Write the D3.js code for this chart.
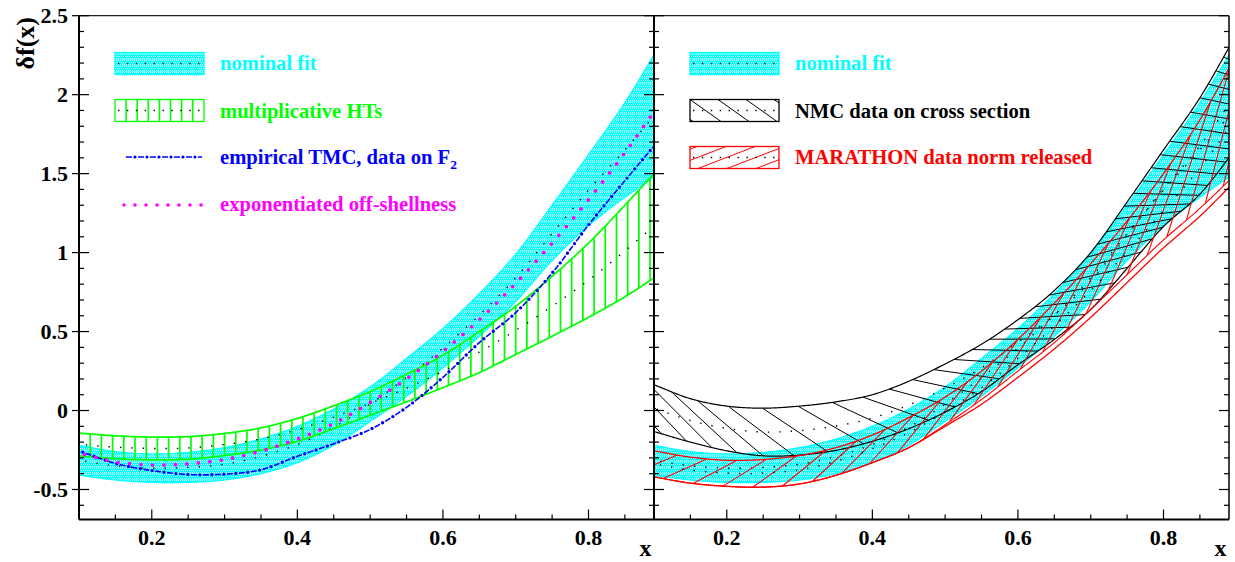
<!DOCTYPE html>
<html><head><meta charset="utf-8">
<script src="https://cdn.jsdelivr.net/npm/d3@7"></script>
<style>
body{margin:0;background:#fff}
svg{display:block}
text{font-family:"Liberation Serif","Times New Roman",serif;font-weight:bold}
</style></head>
<body><svg id="c" width="1235" height="562"></svg>
<script>
// ---------------- data ----------------
const xGrid      = [0.10,0.15,0.20,0.25,0.30,0.35,0.40,0.45,0.50,0.55,0.60,0.65,0.70,0.75,0.80,0.85,0.90];
const nominalHi  = [-0.22,-0.26,-0.275,-0.265,-0.235,-0.18,-0.10,0.01,0.15,0.33,0.52,0.74,0.99,1.30,1.62,1.95,2.33];
const nominalLo  = [-0.41,-0.44,-0.455,-0.455,-0.44,-0.40,-0.33,-0.22,-0.07,0.09,0.27,0.47,0.69,0.95,1.17,1.35,1.51];
const nominalMid = [-0.315,-0.35,-0.365,-0.36,-0.34,-0.29,-0.215,-0.105,0.04,0.21,0.395,0.605,0.84,1.12,1.395,1.65,1.92];
const htHi       = [-0.143,-0.16,-0.168,-0.165,-0.145,-0.11,-0.05,0.03,0.12,0.23,0.35,0.50,0.66,0.85,1.06,1.30,1.55];
const htLo       = [-0.287,-0.305,-0.312,-0.308,-0.285,-0.25,-0.195,-0.115,-0.03,0.055,0.145,0.24,0.355,0.47,0.59,0.72,0.87];
const htMid      = [-0.215,-0.232,-0.24,-0.237,-0.215,-0.18,-0.122,-0.042,0.045,0.142,0.248,0.37,0.508,0.66,0.825,1.01,1.21];
const tmc        = [-0.255,-0.335,-0.38,-0.405,-0.403,-0.375,-0.29,-0.21,-0.12,0.02,0.21,0.43,0.62,0.87,1.175,1.455,1.73];
const offShell   = [-0.27,-0.325,-0.345,-0.338,-0.31,-0.257,-0.18,-0.082,0.05,0.20,0.375,0.575,0.805,1.06,1.335,1.632,1.96];
const nmcHi      = [0.163,0.075,0.028,0.015,0.028,0.055,0.10,0.185,0.295,0.42,0.575,0.76,1.00,1.32,1.65,1.98,2.38];
const nmcLo      = [-0.133,-0.20,-0.255,-0.287,-0.282,-0.252,-0.195,-0.115,-0.01,0.12,0.29,0.45,0.64,0.90,1.165,1.37,1.66];
const nmcMid     = [0.015,-0.063,-0.113,-0.136,-0.127,-0.098,-0.048,0.035,0.142,0.27,0.432,0.605,0.82,1.11,1.405,1.675,2.01];
const marHi      = [-0.255,-0.295,-0.315,-0.31,-0.285,-0.235,-0.155,-0.045,0.085,0.25,0.45,0.68,0.93,1.20,1.50,1.84,2.25];
const marLo      = [-0.42,-0.46,-0.48,-0.485,-0.465,-0.41,-0.33,-0.235,-0.10,0.04,0.21,0.39,0.59,0.81,1.03,1.23,1.46];
const marLoInner = [-0.42,-0.46,-0.48,-0.485,-0.465,-0.41,-0.33,-0.235,-0.09,0.07,0.25,0.43,0.64,0.86,1.08,1.28,1.50];
const marMid     = [-0.337,-0.377,-0.397,-0.397,-0.375,-0.322,-0.242,-0.14,-0.007,0.145,0.33,0.535,0.76,1.005,1.265,1.535,1.855];

const yTickValues = [-0.5,0,0.5,1,1.5,2,2.5];
const yTickLabels = ["-0.5","0","0.5","1","1.5","2","2.5"];
const xTickValues = [0.2,0.4,0.6,0.8];
const xTickLabels = ["0.2","0.4","0.6","0.8"];
const legendLeft  = ["nominal fit","multiplicative HTs","empirical TMC, data on F","exponentiated off-shellness"];
const legendRight = ["nominal fit","NMC data on cross section","MARATHON data norm released"];
const yTitle = "δf(x)", xTitle = "x";

// ---------------- setup ----------------
const FONT = "'Liberation Serif','Times New Roman',serif";
const svg = d3.select("#c");
const yTop = 15.7, yBot = 519.5;
const panels = [{x0:79,x1:654},{x0:654,x1:1229}];
const y = d3.scaleLinear().domain([-0.69,2.5]).range([yBot,yTop]);
const CY="#00ffff", GR="#00ff00", BL="#0000ff", MG="#ff00ff", RD="#ff0000";

function makeInterp(xs, ys){
  const n=xs.length, d=[], m=new Array(n);
  for(let i=0;i<n-1;i++) d.push((ys[i+1]-ys[i])/(xs[i+1]-xs[i]));
  m[0]=d[0]; m[n-1]=d[n-2];
  for(let i=1;i<n-1;i++) m[i]=(d[i-1]+d[i])/2;
  const step=xs[1]-xs[0];
  return x=>{
    if(x<=xs[0]) return ys[0]+m[0]*(x-xs[0]);
    if(x>=xs[n-1]) return ys[n-1]+m[n-1]*(x-xs[n-1]);
    const i=Math.min(n-2,Math.floor((x-xs[0])/step+1e-9));
    const h=xs[i+1]-xs[i], t=(x-xs[i])/h, t2=t*t, t3=t2*t;
    return (2*t3-3*t2+1)*ys[i]+(t3-2*t2+t)*h*m[i]+(-2*t3+3*t2)*ys[i+1]+(t3-t2)*h*m[i+1];
  };
}
const dense = d3.range(0.0,1.0001,0.002);
function curvePts(f){return dense.map(v=>[v,f(v)]);}

const defs = svg.append("defs");
const pat = defs.append("pattern").attr("id","cyanPat").attr("patternUnits","userSpaceOnUse").attr("width",2).attr("height",6);
pat.append("rect").attr("width",2).attr("height",6).attr("fill",CY);
pat.append("rect").attr("x",0).attr("y",0).attr("width",1).attr("height",1).attr("fill","#fff").attr("opacity",0.8);
pat.append("rect").attr("x",1).attr("y",2).attr("width",1).attr("height",1).attr("fill","#fff").attr("opacity",0.8);
pat.append("rect").attr("x",0).attr("y",4).attr("width",1).attr("height",1).attr("fill","#fff").attr("opacity",0.8);
pat.append("rect").attr("x",0).attr("y",5).attr("width",2).attr("height",1).attr("fill","#fff").attr("opacity",0.35);

panels.forEach((p,i)=>{
  defs.append("clipPath").attr("id","pc"+i).append("rect")
    .attr("x",p.x0).attr("y",yTop).attr("width",p.x1-p.x0).attr("height",yBot-yTop);
  p.x = d3.scaleLinear().domain([0.1,0.89]).range([p.x0,p.x1]);
});

function lineGen(p){return d3.line().x(d=>p.x(d[0])).y(d=>y(d[1]));}
function polyPath(p,fU,fL){
  const up=curvePts(fU), lo=curvePts(fL).reverse();
  return "M"+up.concat(lo).map(d=>[p.x(d[0]),y(d[1])].join(",")).join("L")+"Z";
}

let clipCount=0;
function band(g,p,hi,lo,mid,style){
  const fU=makeInterp(xGrid,hi), fL=makeInterp(xGrid,lo), fM=makeInterp(xGrid,mid);
  const fH=style.hatchLo?makeInterp(xGrid,style.hatchLo):fL;
  const id="bc"+(clipCount++);
  defs.append("clipPath").attr("id",id).append("path").attr("d",polyPath(p,fU,fH));
  const L=lineGen(p);
  if(style.fill) g.append("path").attr("d",polyPath(p,fU,fL)).attr("fill",style.fill).attr("stroke","none");
  const hg=g.append("g").attr("clip-path",`url(#${id})`);
  if(style.type==="vertical"){
    d3.range(0,53).map(k=>0.1+k*0.8/52).forEach(xv=>{
      hg.append("line").attr("x1",p.x(xv)).attr("x2",p.x(xv)).attr("y1",y(fL(xv))).attr("y2",y(fU(xv)))
        .attr("stroke",style.color).attr("stroke-width",1.7);
    });
  } else if(style.type==="ladderDown" || style.type==="ladderUp"){
    let acc=0, px=null, py=null; const xs=[];
    for(let xv=-0.05; xv<=0.95; xv+=0.0005){
      const cx=p.x(xv), cy=y((fU(xv)+fH(xv))/2);
      if(px===null) xs.push(xv);
      else { acc+=Math.hypot(cx-px,style.k*(cy-py)); if(acc>=style.base){xs.push(xv); acc-=style.base;} }
      px=cx; py=cy;
    }
    xs.forEach(xv=>{
      const a = style.type==="ladderDown" ? [xv,fU(xv)] : [xv,fH(xv)];
      const xb = xv+style.delta;
      const b = style.type==="ladderDown" ? [xb,fH(xb)] : [xb,fU(xb)];
      hg.append("line").attr("x1",p.x(a[0])).attr("y1",y(a[1])).attr("x2",p.x(b[0])).attr("y2",y(b[1]))
        .attr("stroke",style.color).attr("stroke-width",style.w||1);
    });
  }
  g.append("path").attr("d",L(curvePts(fU))).attr("fill","none").attr("stroke",style.color).attr("stroke-width",style.ew||1.2);
  g.append("path").attr("d",L(curvePts(fL))).attr("fill","none").attr("stroke",style.color).attr("stroke-width",style.ew||1.2);
  if(style.hatchLo) g.append("path").attr("d",L(curvePts(fH))).attr("fill","none").attr("stroke",style.color).attr("stroke-width",1.1);
  g.append("path").attr("d",L(curvePts(fM))).attr("fill","none").attr("stroke","#000").attr("stroke-width",1.4)
    .attr("stroke-dasharray","1.4,10");
}

// ---------------- left panel ----------------
{
  const p=panels[0];
  const g=svg.append("g").attr("clip-path","url(#pc0)");
  band(g,p,nominalHi,nominalLo,nominalMid,{fill:"url(#cyanPat)",color:CY,type:"none",ew:1.2});
  band(g,p,htHi,htLo,htMid,{color:GR,type:"vertical",ew:1.7});
  const L=lineGen(p);
  const fT=makeInterp(xGrid,tmc), fO=makeInterp(xGrid,offShell);
  g.append("path").attr("d",L(curvePts(fT))).attr("fill","none").attr("stroke",BL).attr("stroke-width",1.6).attr("stroke-dasharray","6,6");
  g.append("path").attr("d",L(curvePts(fT))).attr("fill","none").attr("stroke",BL).attr("stroke-width",3.4)
    .attr("stroke-linecap","round").attr("stroke-dasharray","0,12").attr("stroke-dashoffset",-9);
  g.append("path").attr("d",L(curvePts(fO))).attr("fill","none").attr("stroke",MG).attr("stroke-width",3.8)
    .attr("stroke-linecap","round").attr("stroke-dasharray","0,11.5");
}
// ---------------- right panel ----------------
{
  const p=panels[1];
  const g=svg.append("g").attr("clip-path","url(#pc1)");
  band(g,p,nominalHi,nominalLo,nominalMid,{fill:"url(#cyanPat)",color:CY,type:"none",ew:1.2});
  band(g,p,nmcHi,nmcLo,nmcMid,{color:"#000",type:"ladderDown",base:36,k:3,delta:0.09,w:1,ew:1.2});
  band(g,p,marHi,marLo,marMid,{color:RD,type:"ladderUp",base:30,k:1,delta:0.06,w:1.1,ew:1.3,hatchLo:marLoInner});
}

// ---------------- frames & axes ----------------
svg.append("line").attr("x1",79).attr("x2",1229).attr("y1",yTop).attr("y2",yTop).attr("stroke","#222").attr("stroke-width",1.2);
panels.forEach((p,i)=>{
  const ax=svg.append("g").attr("stroke","#000");
  ax.append("line").attr("x1",p.x0).attr("x2",p.x0).attr("y1",yTop).attr("y2",yBot).attr("stroke-width",2);
  ax.append("line").attr("x1",p.x1).attr("x2",p.x1).attr("y1",yTop).attr("y2",yBot).attr("stroke-width",i===1?1.5:2);
  ax.append("line").attr("x1",p.x0).attr("x2",p.x1).attr("y1",yBot).attr("y2",yBot).attr("stroke-width",2);
  d3.range(-6,26).map(k=>k/10).forEach(v=>{
    const major=Math.abs(v*2-Math.round(v*2))<1e-6;
    const len=major?10:5, yy=y(v);
    ax.append("line").attr("x1",p.x0).attr("x2",p.x0+len).attr("y1",yy).attr("y2",yy).attr("stroke-width",1.2);
    ax.append("line").attr("x1",p.x1).attr("x2",p.x1-len).attr("y1",yy).attr("y2",yy).attr("stroke-width",1.2);
    if(i===0 && major) ax.append("line").attr("x1",p.x0-7).attr("x2",p.x0).attr("y1",yy).attr("y2",yy).attr("stroke-width",1.2);
  });
  d3.range(3,18).map(k=>k*0.05).filter(v=>v<0.891).forEach(v=>{
    const major=xTickValues.some(t=>Math.abs(t-v)<1e-6);
    const len=major?10:5, xx=p.x(v);
    ax.append("line").attr("x1",xx).attr("x2",xx).attr("y1",yBot).attr("y2",yBot-len).attr("stroke-width",1.2);
  });
  xTickValues.forEach((v,j)=>{
    svg.append("text").attr("x",p.x(v)).attr("y",545).attr("text-anchor","middle").attr("font-family",FONT).attr("font-size",22).text(xTickLabels[j]);
  });
  svg.append("text").attr("x",p.x1-8.5).attr("y",556).attr("text-anchor","middle").attr("font-family",FONT).attr("font-size",24).text(xTitle);
});
yTickValues.forEach((v,j)=>{
  svg.append("text").attr("x",68).attr("y",y(v)).attr("dy","0.35em").attr("text-anchor","end").attr("font-family",FONT).attr("font-size",22).text(yTickLabels[j]);
});
svg.append("text").attr("transform","translate(34,17) rotate(-90)").attr("text-anchor","end").attr("font-family",FONT).attr("font-size",26).text(yTitle);

// ---------------- legends ----------------
function dotted(g,x1,x2,yy){
  g.append("line").attr("x1",x1).attr("x2",x2).attr("y1",yy).attr("y2",yy).attr("stroke","#000").attr("stroke-width",1.4).attr("stroke-dasharray","1.4,7.5");
}
function legBox(g,x0,y0,kind,id){
  const w=89,h=22;
  defs.append("clipPath").attr("id",id).append("rect").attr("x",x0).attr("y",y0).attr("width",w).attr("height",h);
  if(kind==="nominal") g.append("rect").attr("x",x0).attr("y",y0).attr("width",w).attr("height",h).attr("fill","url(#cyanPat)");
  const hg=g.append("g").attr("clip-path",`url(#${id})`);
  let col=CY;
  if(kind==="ht"){ col=GR; d3.range(1,8).forEach(j=>hg.append("line").attr("x1",x0+j*11.1).attr("x2",x0+j*11.1).attr("y1",y0).attr("y2",y0+h).attr("stroke",GR).attr("stroke-width",1.6)); }
  if(kind==="nmc"){ col="#000"; d3.range(-1,4).forEach(j=>hg.append("line").attr("x1",x0+j*28).attr("y1",y0).attr("x2",x0+j*28+31).attr("y2",y0+h).attr("stroke","#000").attr("stroke-width",1)); }
  if(kind==="mar"){ col=RD; d3.range(-2,4).forEach(j=>hg.append("line").attr("x1",x0+j*29+8).attr("y1",y0+h).attr("x2",x0+j*29+8+57).attr("y2",y0).attr("stroke",RD).attr("stroke-width",1)); }
  dotted(g,x0+3,x0+w,y0+h/2);
  g.append("rect").attr("x",x0).attr("y",y0).attr("width",w).attr("height",h).attr("fill","none").attr("stroke",col).attr("stroke-width",1.3);
}
const lg=svg.append("g");
legBox(lg,115,52.5,"nominal","lb0");
legBox(lg,115,99.5,"ht","lb1");
lg.append("line").attr("x1",126).attr("x2",202).attr("y1",157).attr("y2",157).attr("stroke",BL).attr("stroke-width",1.6).attr("stroke-dasharray","6,6");
lg.append("line").attr("x1",126).attr("x2",202).attr("y1",157).attr("y2",157).attr("stroke",BL).attr("stroke-width",3.2).attr("stroke-linecap","round").attr("stroke-dasharray","0,12").attr("stroke-dashoffset",-9);
lg.append("line").attr("x1",124).attr("x2",202).attr("y1",205).attr("y2",205).attr("stroke",MG).attr("stroke-width",3.6).attr("stroke-linecap","round").attr("stroke-dasharray","0,11");
const lt=[[69.5,CY],[117.5,GR],[164,BL],[211,MG]];
legendLeft.forEach((s,i)=>{
  const t=svg.append("text").attr("x",220).attr("y",lt[i][0]).attr("font-family",FONT).attr("font-size",20.6).attr("fill",lt[i][1]).text(s);
  if(i===2) t.append("tspan").attr("font-size",13.5).attr("dy",5).text("2");
});
legBox(lg,690,52.5,"nominal","lb2");
legBox(lg,690,99.5,"nmc","lb3");
legBox(lg,690,146.5,"mar","lb4");
const rt=[[69.5,CY],[117.5,"#000"],[164,RD]];
legendRight.forEach((s,i)=>{
  svg.append("text").attr("x",795).attr("y",rt[i][0]).attr("font-family",FONT).attr("font-size",20.6).attr("fill",rt[i][1]).text(s);
});
</script></body></html>
